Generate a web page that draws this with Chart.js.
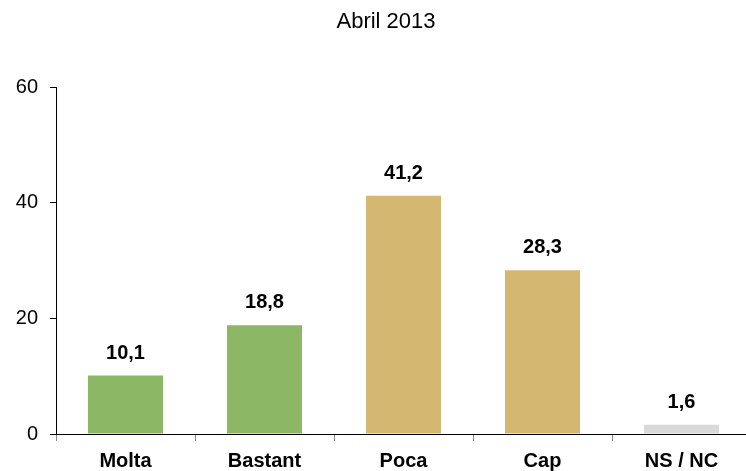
<!DOCTYPE html>
<html lang="ca">
<head>
  <meta charset="UTF-8" />
  <title>Abril 2013</title>
  <script src="https://cdn.jsdelivr.net/npm/chart.js"></script>
  <style>
    html, body { margin: 0; padding: 0; background: #fff; overflow: hidden; }
    #wrap { width: 746px; height: 471px; overflow: hidden; }
  </style>
</head>
<body>
  <!-- el gràfic original talla l'eix x a la vora dreta: el llenç és 5px més ample -->
  <div id="wrap"><canvas id="chart" width="751" height="471"></canvas></div>

  <script>
    const title = 'Abril 2013';
    const categories = ['Molta', 'Bastant', 'Poca', 'Cap', 'NS / NC'];
    const values = [10.1, 18.8, 41.2, 28.3, 1.6];
    const barColors = ['#8cb764', '#8cb764', '#d4b872', '#d4b872', '#d9d9d9'];
    const yTicks = [0, 20, 40, 60];

    const FONT = '"Liberation Sans", Arial, sans-serif';

    // títol i etiquetes de valor damunt de cada barra
    const valueLabels = {
      id: 'valueLabels',
      afterDatasetsDraw(chart) {
        const c = chart.ctx;
        const meta = chart.getDatasetMeta(0);
        c.save();
        c.fillStyle = '#000';
        c.textAlign = 'center';
        c.textBaseline = 'middle';
        c.font = '22px ' + FONT;
        c.fillText(title, 386, 22);
        c.font = 'bold 20px ' + FONT;
        c.textBaseline = 'alphabetic';
        meta.data.forEach((bar, i) => {
          const txt = values[i].toFixed(1).replace('.', ',');
          c.fillText(txt, bar.x, bar.y - 17);
        });
        c.restore();
      }
    };

    const ctx = document.getElementById('chart').getContext('2d');
    const chart = new Chart(ctx, {
      type: 'bar',
      data: {
        labels: categories,
        datasets: [{
          data: values,
          backgroundColor: barColors,
          borderWidth: 0,
          categoryPercentage: 1,
          barPercentage: 0.54
        }]
      },
      options: {
        responsive: false,
        animation: false,
        layout: { padding: { top: 87, right: 0, left: 1, bottom: 0 } },
        plugins: {
          legend: { display: false },
          tooltip: { enabled: false },
          title: { display: false }
        },
        scales: {
          x: {
            afterFit(scale) { scale.height = 37; },
            grid: {
              drawOnChartArea: false,
              drawTicks: true,
              tickLength: 7,
              color: '#888',
              offset: true
            },
            border: { display: true, color: '#000', width: 1 },
            ticks: {
              color: '#000',
              padding: 8,
              font: { family: FONT, size: 20, weight: 'bold' }
            }
          },
          y: {
            min: 0,
            max: 60,
            afterFit(scale) { scale.width = 55; },
            afterBuildTicks(scale) { scale.ticks = yTicks.map(v => ({ value: v })); },
            grid: {
              drawOnChartArea: false,
              drawTicks: true,
              tickLength: 6,
              color: '#000'
            },
            border: { display: true, color: '#000', width: 1 },
            ticks: {
              color: '#000',
              padding: 12,
              font: { family: FONT, size: 20 }
            }
          }
        }
      },
      plugins: [valueLabels]
    });
  </script>
</body>
</html>
